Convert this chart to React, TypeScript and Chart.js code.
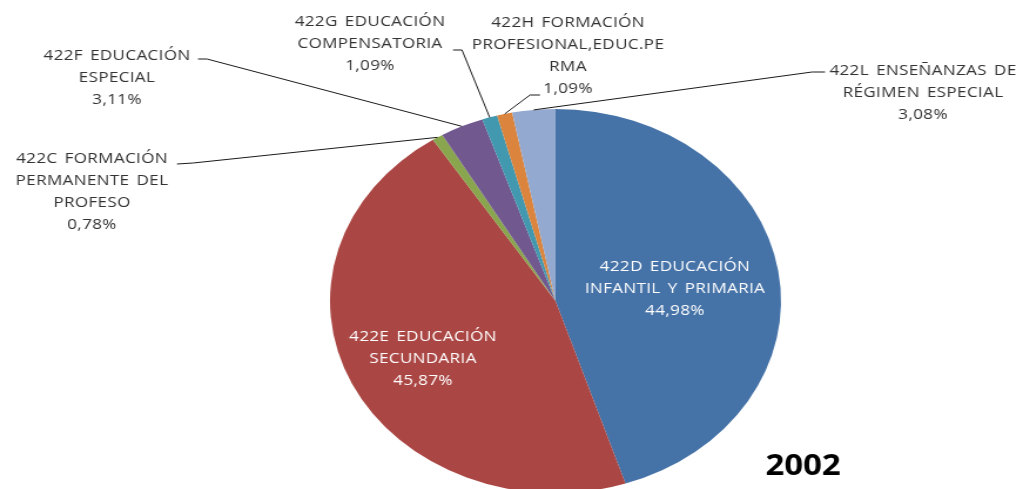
import React, { useEffect, useRef } from "react";
import { Chart, registerables } from "chart.js";

Chart.register(...registerables);

// ---- data ----
const categories: string[][] = [
  ["422D EDUCACIÓN", "INFANTIL Y PRIMARIA"],
  ["422E EDUCACIÓN", "SECUNDARIA"],
  ["422C FORMACIÓN", "PERMANENTE DEL", "PROFESO"],
  ["422F EDUCACIÓN", "ESPECIAL"],
  ["422G EDUCACIÓN", "COMPENSATORIA"],
  ["422H FORMACIÓN", "PROFESIONAL,EDUC.PE", "RMA"],
  ["422L ENSEÑANZAS DE", "RÉGIMEN ESPECIAL"],
];
const values: number[] = [44.98, 45.87, 0.78, 3.11, 1.09, 1.09, 3.08];
const sliceColors: string[] = ["#4572A7", "#AA4643", "#89A54E", "#71588F", "#4198AF", "#DB843D", "#93A9CF"];
const chartTitle = "2002";

// ---- layout (page pixels) ----
const PAGE_W = 1023;
const PAGE_H = 489;
const STRETCH = 1.1745; // the original picture is stretched horizontally
const CANVAS_W = Math.round(PAGE_W / STRETCH);
const PIE_CX = 555.5;
const PIE_CY = 301;
const PIE_R = 192;
const LINE_H = 22;

type Placement = { x: number; y: number; inside?: boolean; leader?: number[][] };
const labelPlacement: Placement[] = [
  { x: 675, y: 267, inside: true },
  { x: 423, y: 337, inside: true },
  { x: 92, y: 159, leader: [[177, 164], [193, 163]] },
  { x: 117, y: 56, leader: [[198, 59], [207, 59]] },
  { x: 370, y: 22, leader: [[453, 50], [462, 50]] },
  { x: 568, y: 23, leader: [[540, 95], [530, 95]] },
  { x: 923, y: 71, leader: [[825, 72], [812, 72]] },
];
const titlePos = { x: 803, y: 467 };

const fmtPct = (v: number) => v.toFixed(2).replace(".", ",") + "%";

const labelPlugin = {
  id: "pieLabels",
  afterDatasetsDraw(chart: any) {
    const ctx: any = chart.ctx;
    const meta = chart.getDatasetMeta(0);
    ctx.save();
    ctx.textAlign = "center";
    ctx.textBaseline = "middle";
    meta.data.forEach((arc: any, i: number) => {
      const p = labelPlacement[i];
      const { x, y, startAngle, endAngle, outerRadius } = arc.getProps(
        ["x", "y", "startAngle", "endAngle", "outerRadius"],
        true
      );
      if (p.leader) {
        const mid = (startAngle + endAngle) / 2;
        ctx.beginPath();
        ctx.moveTo(p.leader[0][0] / STRETCH, p.leader[0][1]);
        ctx.lineTo(p.leader[1][0] / STRETCH, p.leader[1][1]);
        ctx.lineTo(x + Math.cos(mid) * outerRadius, y + Math.sin(mid) * outerRadius);
        ctx.strokeStyle = "#1a1a1a";
        ctx.lineWidth = 1;
        ctx.stroke();
      }
      const lines = [...categories[i], fmtPct(values[i])];
      ctx.fillStyle = p.inside ? "#ffffff" : "#333333";
      ctx.font = '14.5px "Open Sans"';
      ctx.letterSpacing = "0.3px";
      ctx.wordSpacing = "2px";
      lines.forEach((t, k) => ctx.fillText(t, p.x / STRETCH, p.y + k * LINE_H));
    });
    ctx.letterSpacing = "0px";
    ctx.wordSpacing = "0px";
    ctx.fillStyle = "#000000";
    ctx.font = 'bold 28px "Open Sans"';
    ctx.fillText(chartTitle, titlePos.x / STRETCH, titlePos.y);
    ctx.restore();
  },
};

export default function App() {
  const canvasRef = useRef<HTMLCanvasElement | null>(null);
  useEffect(() => {
    document.body.style.margin = "0";
    const canvas = canvasRef.current;
    if (!canvas) return;
    const cx = PIE_CX / STRETCH;
    const padLeft = Math.max(0, 2 * cx - CANVAS_W);
    const padRight = Math.max(0, CANVAS_W - 2 * cx);
    const padTop = Math.max(0, 2 * PIE_CY - PAGE_H);
    const padBottom = Math.max(0, PAGE_H - 2 * PIE_CY);
    const chart = new Chart(canvas, {
      type: "pie",
      data: {
        labels: categories.map((c) => c.join(" ")),
        datasets: [
          {
            data: values,
            backgroundColor: sliceColors,
            borderWidth: 0,
            hoverOffset: 0,
            clip: false as any,
          } as any,
        ],
      },
      options: {
        responsive: false,
        animation: false,
        devicePixelRatio: 1,
        radius: PIE_R,
        layout: { padding: { left: padLeft, right: padRight, top: padTop, bottom: padBottom } },
        plugins: { legend: { display: false }, tooltip: { enabled: false }, title: { display: false } },
        events: [],
      } as any,
      plugins: [labelPlugin],
    });
    return () => chart.destroy();
  }, []);
  return (
    <div style={{ width: PAGE_W, height: PAGE_H, background: "#fff", overflow: "hidden" }}>
      <canvas
        ref={canvasRef}
        width={CANVAS_W}
        height={PAGE_H}
        style={{ display: "block", width: PAGE_W + "px", height: PAGE_H + "px" }}
      />
    </div>
  );
}
